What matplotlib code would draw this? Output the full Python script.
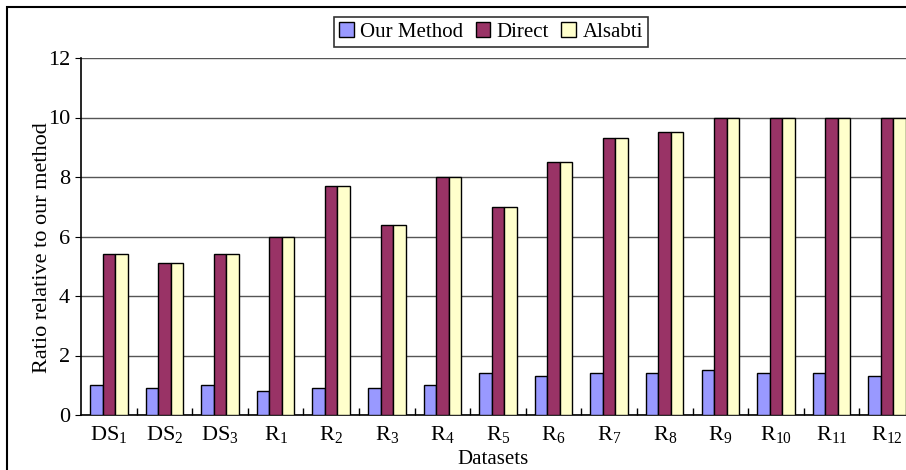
import numpy as np
import matplotlib
matplotlib.use("Agg")
import matplotlib.pyplot as plt
from matplotlib.patches import Rectangle

plt.rcParams["font.family"] = ["Liberation Serif", "DejaVu Serif"]
plt.rcParams["mathtext.fontset"] = "custom"
plt.rcParams["mathtext.rm"] = "Liberation Serif"

# Data
datasets = ["DS$_\\mathrm{1}$", "DS$_\\mathrm{2}$", "DS$_\\mathrm{3}$",
            "R$_\\mathrm{1}$", "R$_\\mathrm{2}$", "R$_\\mathrm{3}$", "R$_\\mathrm{4}$",
            "R$_\\mathrm{5}$", "R$_\\mathrm{6}$", "R$_\\mathrm{7}$", "R$_\\mathrm{8}$",
            "R$_\\mathrm{9}$", "R$_\\mathrm{10}$", "R$_\\mathrm{11}$", "R$_\\mathrm{12}$"]
our_method = [1.0, 0.9, 1.0, 0.8, 0.9, 0.9, 1.0, 1.4, 1.3, 1.4, 1.4, 1.5, 1.4, 1.4, 1.3]
direct = [5.4, 5.1, 5.4, 6.0, 7.7, 6.4, 8.0, 7.0, 8.5, 9.3, 9.5, 10, 10, 10, 10]
alsabti = [5.4, 5.1, 5.4, 6.0, 7.7, 6.4, 8.0, 7.0, 8.5, 9.3, 9.5, 10, 10, 10, 10]
series_names = ["Our Method", "Direct", "Alsabti"]
colors = ["#9999FF", "#993366", "#FFFFCC"]

fig = plt.figure(figsize=(9.06, 4.70), dpi=100)
ax = fig.add_axes([81 / 906, 1 - 415 / 470, 1 - 81 / 906, (415 - 58) / 470])

x = np.arange(len(datasets))
w = 0.225
for i, (vals, name, c) in enumerate(zip([our_method, direct, alsabti], series_names, colors)):
    ax.bar(x + (i - 1) * w, vals, w, color=c, edgecolor="black", linewidth=1,
           label=name, zorder=3)

ax.set_ylim(0, 12)
ax.set_yticks(range(0, 13, 2))
ax.set_xlim(-0.5, 14.34)
ax.set_xticks(x)
ax.set_xticklabels(datasets)
ax.set_xticks(np.arange(0.5, 14.5, 1), minor=True)
ax.tick_params(axis="x", which="major", length=0, labelsize=16, pad=7)
ax.tick_params(axis="x", which="minor", length=5, direction="in", width=1)
ax.tick_params(axis="y", length=4, direction="out", labelsize=16, pad=4)

ax.grid(axis="y", color="#555555", linewidth=1, zorder=0)
for s in ["top", "right"]:
    ax.spines[s].set_visible(False)
ax.spines["left"].set_linewidth(1.2)
ax.spines["bottom"].set_linewidth(1.2)

ax.set_xlabel("Datasets", fontsize=15, labelpad=3)
ax.set_ylabel("Ratio relative to our method", fontsize=16, labelpad=1)
ax.yaxis.set_label_coords(-29 / 825, 0.47)

leg = ax.legend(loc="center", bbox_to_anchor=(491 / 906, 1 - 32 / 470),
                bbox_transform=fig.transFigure, ncol=3, fontsize=15,
                frameon=True, fancybox=False, handlelength=0.7, handleheight=0.7,
                handletextpad=0.3, columnspacing=0.6, borderpad=0.25)
leg.get_frame().set_edgecolor("black")
leg.get_frame().set_linewidth(1.2)

# outer border of the original chart area
fig.patches.append(Rectangle((7 / 906, -0.1), 1.2, 1.1 - 7 / 470, transform=fig.transFigure,
                             fill=False, edgecolor="black", linewidth=1.5))

fig.savefig("out.png", dpi=100)
